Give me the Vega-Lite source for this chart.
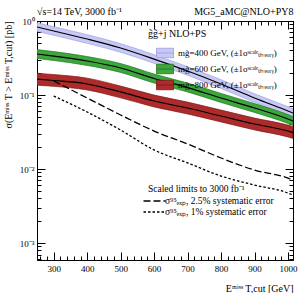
{
  "$schema": "https://vega.github.io/schema/vega-lite/v6.json",
  "width": 256,
  "height": 239,
  "autosize": {"type": "none"},
  "padding": {"left": 37, "top": 21, "right": 12, "bottom": 33},
  "background": "white",
  "config": {
    "font": "Liberation Serif",
    "view": {"stroke": "black", "strokeWidth": 1},
    "axis": {"grid": false, "labelOverlap": false, "domainColor": "black", "tickColor": "black", "labelColor": "black", "titleColor": "black", "labelFont": "Liberation Serif", "titleFont": "Liberation Serif", "labelFontSize": 9, "titleFontSize": 10, "titleFontWeight": "normal"},
    "legend": {"labelFont": "Liberation Serif", "titleFont": "Liberation Serif", "labelColor": "black", "titleColor": "black"}
  },
  "title": {"text": "√s=14 TeV, 3000 fb⁻¹", "anchor": "start", "frame": "group", "fontSize": 10, "fontWeight": "normal", "font": "Liberation Serif", "color": "black", "offset": 4, "dy": 14},
  "datasets": {
    "bands": [
      {"mass": "mg̃=400 GeV, (±1σˢᶜᵃˡᵉₜₕₑₒᵣᵧ)", "x": 250, "xs": 0.830, "lo": 0.726, "hi": 0.949},
      {"mass": "mg̃=400 GeV, (±1σˢᶜᵃˡᵉₜₕₑₒᵣᵧ)", "x": 300, "xs": 0.733, "lo": 0.641, "hi": 0.838},
      {"mass": "mg̃=400 GeV, (±1σˢᶜᵃˡᵉₜₕₑₒᵣᵧ)", "x": 400, "xs": 0.571, "lo": 0.500, "hi": 0.653},
      {"mass": "mg̃=400 GeV, (±1σˢᶜᵃˡᵉₜₕₑₒᵣᵧ)", "x": 500, "xs": 0.432, "lo": 0.378, "hi": 0.494},
      {"mass": "mg̃=400 GeV, (±1σˢᶜᵃˡᵉₜₕₑₒᵣᵧ)", "x": 600, "xs": 0.306, "lo": 0.268, "hi": 0.350},
      {"mass": "mg̃=400 GeV, (±1σˢᶜᵃˡᵉₜₕₑₒᵣᵧ)", "x": 700, "xs": 0.211, "lo": 0.185, "hi": 0.241},
      {"mass": "mg̃=400 GeV, (±1σˢᶜᵃˡᵉₜₕₑₒᵣᵧ)", "x": 800, "xs": 0.141, "lo": 0.123, "hi": 0.161},
      {"mass": "mg̃=400 GeV, (±1σˢᶜᵃˡᵉₜₕₑₒᵣᵧ)", "x": 900, "xs": 0.0911, "lo": 0.0797, "hi": 0.104},
      {"mass": "mg̃=400 GeV, (±1σˢᶜᵃˡᵉₜₕₑₒᵣᵧ)", "x": 1000, "xs": 0.0608, "lo": 0.0532, "hi": 0.0695},
      {"mass": "mg̃=400 GeV, (±1σˢᶜᵃˡᵉₜₕₑₒᵣᵧ)", "x": 1015, "xs": 0.0571, "lo": 0.0500, "hi": 0.0653},
      {"mass": "mg̃=600 GeV, (±1σˢᶜᵃˡᵉₜₕₑₒᵣᵧ)", "x": 250, "xs": 0.358, "lo": 0.312, "hi": 0.411},
      {"mass": "mg̃=600 GeV, (±1σˢᶜᵃˡᵉₜₕₑₒᵣᵧ)", "x": 300, "xs": 0.336, "lo": 0.293, "hi": 0.386},
      {"mass": "mg̃=600 GeV, (±1σˢᶜᵃˡᵉₜₕₑₒᵣᵧ)", "x": 400, "xs": 0.288, "lo": 0.251, "hi": 0.331},
      {"mass": "mg̃=600 GeV, (±1σˢᶜᵃˡᵉₜₕₑₒᵣᵧ)", "x": 500, "xs": 0.232, "lo": 0.202, "hi": 0.266},
      {"mass": "mg̃=600 GeV, (±1σˢᶜᵃˡᵉₜₕₑₒᵣᵧ)", "x": 600, "xs": 0.167, "lo": 0.145, "hi": 0.192},
      {"mass": "mg̃=600 GeV, (±1σˢᶜᵃˡᵉₜₕₑₒᵣᵧ)", "x": 700, "xs": 0.126, "lo": 0.110, "hi": 0.145},
      {"mass": "mg̃=600 GeV, (±1σˢᶜᵃˡᵉₜₕₑₒᵣᵧ)", "x": 800, "xs": 0.0911, "lo": 0.0793, "hi": 0.105},
      {"mass": "mg̃=600 GeV, (±1σˢᶜᵃˡᵉₜₕₑₒᵣᵧ)", "x": 900, "xs": 0.0667, "lo": 0.0581, "hi": 0.0766},
      {"mass": "mg̃=600 GeV, (±1σˢᶜᵃˡᵉₜₕₑₒᵣᵧ)", "x": 1000, "xs": 0.0474, "lo": 0.0413, "hi": 0.0544},
      {"mass": "mg̃=600 GeV, (±1σˢᶜᵃˡᵉₜₕₑₒᵣᵧ)", "x": 1015, "xs": 0.0445, "lo": 0.0388, "hi": 0.0511},
      {"mass": "mg̃=800 GeV, (±1σˢᶜᵃˡᵉₜₕₑₒᵣᵧ)", "x": 250, "xs": 0.164, "lo": 0.136, "hi": 0.197},
      {"mass": "mg̃=800 GeV, (±1σˢᶜᵃˡᵉₜₕₑₒᵣᵧ)", "x": 300, "xs": 0.157, "lo": 0.131, "hi": 0.189},
      {"mass": "mg̃=800 GeV, (±1σˢᶜᵃˡᵉₜₕₑₒᵣᵧ)", "x": 400, "xs": 0.141, "lo": 0.117, "hi": 0.169},
      {"mass": "mg̃=800 GeV, (±1σˢᶜᵃˡᵉₜₕₑₒᵣᵧ)", "x": 500, "xs": 0.110, "lo": 0.0915, "hi": 0.132},
      {"mass": "mg̃=800 GeV, (±1σˢᶜᵃˡᵉₜₕₑₒᵣᵧ)", "x": 600, "xs": 0.0830, "lo": 0.0691, "hi": 0.0998},
      {"mass": "mg̃=800 GeV, (±1σˢᶜᵃˡᵉₜₕₑₒᵣᵧ)", "x": 700, "xs": 0.0667, "lo": 0.0555, "hi": 0.0802},
      {"mass": "mg̃=800 GeV, (±1σˢᶜᵃˡᵉₜₕₑₒᵣᵧ)", "x": 800, "xs": 0.0520, "lo": 0.0433, "hi": 0.0625},
      {"mass": "mg̃=800 GeV, (±1σˢᶜᵃˡᵉₜₕₑₒᵣᵧ)", "x": 900, "xs": 0.0406, "lo": 0.0338, "hi": 0.0488},
      {"mass": "mg̃=800 GeV, (±1σˢᶜᵃˡᵉₜₕₑₒᵣᵧ)", "x": 1000, "xs": 0.0326, "lo": 0.0271, "hi": 0.0392},
      {"mass": "mg̃=800 GeV, (±1σˢᶜᵃˡᵉₜₕₑₒᵣᵧ)", "x": 1015, "xs": 0.0311, "lo": 0.0259, "hi": 0.0374}
    ],
    "limits": [
      {"limit": "σ⁹⁵ₑₓₚ, 2.5% systematic error", "x": 300, "xs": 0.155},
      {"limit": "σ⁹⁵ₑₓₚ, 2.5% systematic error", "x": 400, "xs": 0.0911},
      {"limit": "σ⁹⁵ₑₓₚ, 2.5% systematic error", "x": 500, "xs": 0.0537},
      {"limit": "σ⁹⁵ₑₓₚ, 2.5% systematic error", "x": 600, "xs": 0.0326},
      {"limit": "σ⁹⁵ₑₓₚ, 2.5% systematic error", "x": 700, "xs": 0.0218},
      {"limit": "σ⁹⁵ₑₓₚ, 2.5% systematic error", "x": 800, "xs": 0.0141},
      {"limit": "σ⁹⁵ₑₓₚ, 2.5% systematic error", "x": 900, "xs": 0.00969},
      {"limit": "σ⁹⁵ₑₓₚ, 2.5% systematic error", "x": 1000, "xs": 0.00755},
      {"limit": "σ⁹⁵ₑₓₚ, 2.5% systematic error", "x": 1015, "xs": 0.00710},
      {"limit": "σ⁹⁵ₑₓₚ, 1% systematic error", "x": 300, "xs": 0.0969},
      {"limit": "σ⁹⁵ₑₓₚ, 1% systematic error", "x": 400, "xs": 0.0589},
      {"limit": "σ⁹⁵ₑₓₚ, 1% systematic error", "x": 500, "xs": 0.0336},
      {"limit": "σ⁹⁵ₑₓₚ, 1% systematic error", "x": 600, "xs": 0.0181},
      {"limit": "σ⁹⁵ₑₓₚ, 1% systematic error", "x": 700, "xs": 0.0121},
      {"limit": "σ⁹⁵ₑₓₚ, 1% systematic error", "x": 800, "xs": 0.00804},
      {"limit": "σ⁹⁵ₑₓₚ, 1% systematic error", "x": 900, "xs": 0.00608},
      {"limit": "σ⁹⁵ₑₓₚ, 1% systematic error", "x": 1000, "xs": 0.00474},
      {"limit": "σ⁹⁵ₑₓₚ, 1% systematic error", "x": 1015, "xs": 0.00445}
    ]
  },
  "layer": [
    {
      "encoding": {
        "x": {"field": "x", "type": "quantitative", "scale": {"domain": [250, 1015], "nice": false, "zero": false},
          "axis": {"orient": "bottom", "values": [260,280,300,320,340,360,380,400,420,440,460,480,500,520,540,560,580,600,620,640,660,680,700,720,740,760,780,800,820,840,860,880,900,920,940,960,980,1000],
            "format": "d", "labelExpr": "datum.value % 100 === 0 ? datum.label : ''",
            "tickSize": {"condition": {"test": "datum.value % 100 === 0", "value": -8}, "value": -4},
            "labelPadding": 12, "labelFlush": false, "labelOverlap": false, "labelBound": false,
            "title": "Eᵐⁱˢˢ T,cut [GeV]", "titleAnchor": "end", "titlePadding": 6}},
        "y": {"field": "xs", "type": "quantitative", "scale": {"type": "log", "domain": [0.00059, 1], "nice": false},
          "axis": {"orient": "left", "values": [0.0006,0.0007,0.0008,0.0009,0.001,0.002,0.003,0.004,0.005,0.006,0.007,0.008,0.009,0.01,0.02,0.03,0.04,0.05,0.06,0.07,0.08,0.09,0.1,0.2,0.3,0.4,0.5,0.6,0.7,0.8,0.9,1],
            "labelExpr": "datum.value > 0.99 ? '10⁰' : abs(datum.value - 0.1) < 1e-9 ? '10⁻¹' : abs(datum.value - 0.01) < 1e-9 ? '10⁻²' : abs(datum.value - 0.001) < 1e-9 ? '10⁻³' : ''",
            "tickSize": {"condition": {"test": "datum.value > 0.99 || abs(datum.value - 0.1) < 1e-9 || abs(datum.value - 0.01) < 1e-9 || abs(datum.value - 0.001) < 1e-9", "value": -8}, "value": -4},
            "labelPadding": 11, "labelOverlap": false, "labelFlush": false,
            "title": "σ(Eᵐⁱˢˢ T > Eᵐⁱˢˢ T,cut) [pb]", "titleAnchor": "end", "titlePadding": 6}}
      },
      "layer": [
        {
          "data": {"name": "bands"},
          "mark": {"type": "area", "interpolate": "monotone", "strokeWidth": 0.7, "clip": true},
          "encoding": {
            "y": {"field": "lo", "type": "quantitative", "scale": {"type": "log", "domain": [0.00059, 1], "nice": false},
              "axis": {"orient": "left", "values": [0.0006,0.0007,0.0008,0.0009,0.001,0.002,0.003,0.004,0.005,0.006,0.007,0.008,0.009,0.01,0.02,0.03,0.04,0.05,0.06,0.07,0.08,0.09,0.1,0.2,0.3,0.4,0.5,0.6,0.7,0.8,0.9,1],
                "labelExpr": "datum.value > 0.99 ? '10⁰' : abs(datum.value - 0.1) < 1e-9 ? '10⁻¹' : abs(datum.value - 0.01) < 1e-9 ? '10⁻²' : abs(datum.value - 0.001) < 1e-9 ? '10⁻³' : ''",
                "tickSize": {"condition": {"test": "datum.value > 0.99 || abs(datum.value - 0.1) < 1e-9 || abs(datum.value - 0.01) < 1e-9 || abs(datum.value - 0.001) < 1e-9", "value": -8}, "value": -4},
                "labelPadding": 11, "labelOverlap": false, "labelFlush": false,
                "title": "σ(Eᵐⁱˢˢ T > Eᵐⁱˢˢ T,cut) [pb]", "titleAnchor": "end", "titlePadding": 6}},
            "y2": {"field": "hi"},
            "fill": {"field": "mass", "type": "nominal",
              "scale": {"domain": ["mg̃=400 GeV, (±1σˢᶜᵃˡᵉₜₕₑₒᵣᵧ)", "mg̃=600 GeV, (±1σˢᶜᵃˡᵉₜₕₑₒᵣᵧ)", "mg̃=800 GeV, (±1σˢᶜᵃˡᵉₜₕₑₒᵣᵧ)"], "range": ["#c8c8f4", "#3da63d", "#ad2b2b"]},
              "legend": {"orient": "none", "legendX": 111, "legendY": 8, "title": "g̃g̃+j NLO+PS", "titleFontSize": 10, "titleFontWeight": "normal", "titlePadding": 5,
                "labelFontSize": 9, "labelLimit": 200, "labelOffset": 4, "rowPadding": -2,
                "symbolType": "M-1,-0.56H1V0.56H-1Z M-1,0H1", "symbolSize": 289, "symbolStrokeColor": "black", "symbolStrokeWidth": 0.8, "symbolOpacity": 1, "symbolOffset": 8}},
            "stroke": {"field": "mass", "type": "nominal",
              "scale": {"domain": ["mg̃=400 GeV, (±1σˢᶜᵃˡᵉₜₕₑₒᵣᵧ)", "mg̃=600 GeV, (±1σˢᶜᵃˡᵉₜₕₑₒᵣᵧ)", "mg̃=800 GeV, (±1σˢᶜᵃˡᵉₜₕₑₒᵣᵧ)"], "range": ["#9c9ce6", "#237a23", "#7e1818"]},
              "legend": null}
          }
        },
        {
          "data": {"name": "bands"},
          "mark": {"type": "line", "interpolate": "monotone", "color": "black", "strokeWidth": 1.2, "clip": true},
          "encoding": {
            "detail": {"field": "mass", "type": "nominal"}
          }
        },
        {
          "data": {"name": "limits"},
          "mark": {"type": "line", "interpolate": "monotone", "color": "black", "strokeWidth": 1.3, "clip": true},
          "encoding": {
            "strokeDash": {"field": "limit", "type": "nominal",
              "scale": {"domain": ["σ⁹⁵ₑₓₚ, 2.5% systematic error", "σ⁹⁵ₑₓₚ, 1% systematic error"], "range": [[7, 3], [2.5, 2]]},
              "legend": {"orient": "none", "legendX": 111, "legendY": 163, "title": "Scaled limits to 3000 fb⁻¹", "titleFontSize": 9.5, "titleFontWeight": "normal", "titlePadding": 1,
                "labelFontSize": 9.5, "labelLimit": 200, "labelOffset": 4, "rowPadding": -1,
                "symbolType": "M-2,0H2", "symbolSize": 121, "symbolStrokeColor": "black", "symbolStrokeWidth": 1.5, "symbolFillColor": "transparent"}}
          }
        }
      ]
    },
    {
      "data": {"name": "bands"},
      "mark": {"type": "point", "opacity": 0},
      "encoding": {
        "x": {"field": "x", "type": "quantitative", "scale": {"domain": [250, 1015], "nice": false, "zero": false},
          "axis": {"orient": "top", "values": [260,280,300,320,340,360,380,400,420,440,460,480,500,520,540,560,580,600,620,640,660,680,700,720,740,760,780,800,820,840,860,880,900,920,940,960,980,1000],
            "labels": false,
            "tickSize": {"condition": {"test": "datum.value % 100 === 0", "value": -8}, "value": -4},
            "title": "MG5_aMC@NLO+PY8", "titleAnchor": "end", "titlePadding": 4}},
        "y": {"field": "xs", "type": "quantitative", "scale": {"type": "log", "domain": [0.00059, 1], "nice": false},
          "axis": {"orient": "right", "values": [0.0006,0.0007,0.0008,0.0009,0.001,0.002,0.003,0.004,0.005,0.006,0.007,0.008,0.009,0.01,0.02,0.03,0.04,0.05,0.06,0.07,0.08,0.09,0.1,0.2,0.3,0.4,0.5,0.6,0.7,0.8,0.9,1],
            "labels": false,
            "tickSize": {"condition": {"test": "datum.value > 0.99 || abs(datum.value - 0.1) < 1e-9 || abs(datum.value - 0.01) < 1e-9 || abs(datum.value - 0.001) < 1e-9", "value": -8}, "value": -4},
            "title": null}}
      }
    }
  ],
  "resolve": {"scale": {"x": "independent", "y": "independent"}}
}
